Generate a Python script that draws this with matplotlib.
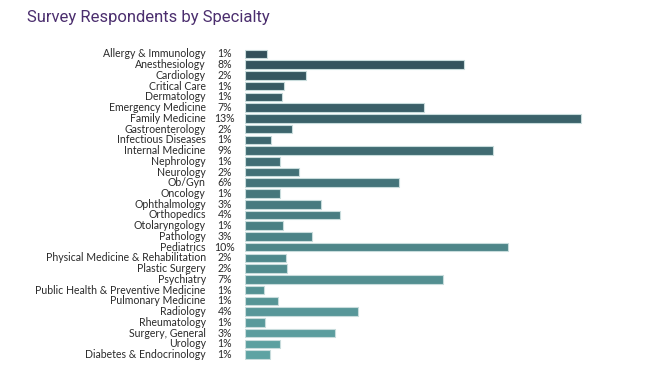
import matplotlib.pyplot as plt
import matplotlib.transforms as mtransforms
from matplotlib.colors import LinearSegmentedColormap
import numpy as np

specialties = [
    "Allergy & Immunology", "Anesthesiology", "Cardiology", "Critical Care",
    "Dermatology", "Emergency Medicine", "Family Medicine", "Gastroenterology",
    "Infectious Diseases", "Internal Medicine", "Nephrology", "Neurology",
    "Ob/Gyn", "Oncology", "Ophthalmology", "Orthopedics", "Otolaryngology",
    "Pathology", "Pediatrics", "Physical Medicine & Rehabilitation",
    "Plastic Surgery", "Psychiatry", "Public Health & Preventive Medicine",
    "Pulmonary Medicine", "Radiology", "Rheumatology", "Surgery, General",
    "Urology", "Diabetes & Endocrinology",
]
values = [0.85, 8.5, 2.36, 1.52, 1.44, 6.92, 13.0, 1.83, 1.02, 9.59, 1.37,
          2.10, 5.95, 1.38, 2.94, 3.70, 1.50, 2.61, 10.2, 1.59, 1.65, 7.66,
          0.76, 1.27, 4.37, 0.77, 3.48, 1.38, 0.98]
pct_labels = ["1%", "8%", "2%", "1%", "1%", "7%", "13%", "2%", "1%", "9%",
              "1%", "2%", "6%", "1%", "3%", "4%", "1%", "3%", "10%", "2%",
              "2%", "7%", "1%", "1%", "4%", "1%", "3%", "1%", "1%"]

W, H = 658, 391
fig = plt.figure(figsize=(W / 100, H / 100), dpi=100)
ax = fig.add_axes([244.7 / W, 1 - 359.9 / H, 361.9 / W, 311.3 / H])

n = len(specialties)
y = np.arange(n)
cmap = LinearSegmentedColormap.from_list("teal", ["#33515b", "#477a7f", "#5ea3a3"])
colors = [cmap(i / (n - 1)) for i in range(n)]

ax.barh(y, values, height=0.8, color=colors, edgecolor="#c8dcdc", linewidth=0.8)
ax.set_xlim(0, 14)
ax.set_ylim(n - 0.5, -0.5)
ax.axis("off")

trans = mtransforms.blended_transform_factory(fig.transFigure, ax.transData)
for i, (name, pct) in enumerate(zip(specialties, pct_labels)):
    ax.text(205.7 / W, i, name, transform=trans, ha="right", va="center",
            fontsize=7.6, family="Lato", color="#2a2a2a")
    ax.text(225 / W, i, pct, transform=trans, ha="center", va="center",
            fontsize=7.6, family="Lato", color="#2a2a2a")

fig.text(27 / W, 1 - 22 / H, "Survey Respondents by Specialty", ha="left",
         va="baseline", fontsize=12, family="Roboto", color="#4b2e6e")

fig.savefig("out.png", dpi=100)
